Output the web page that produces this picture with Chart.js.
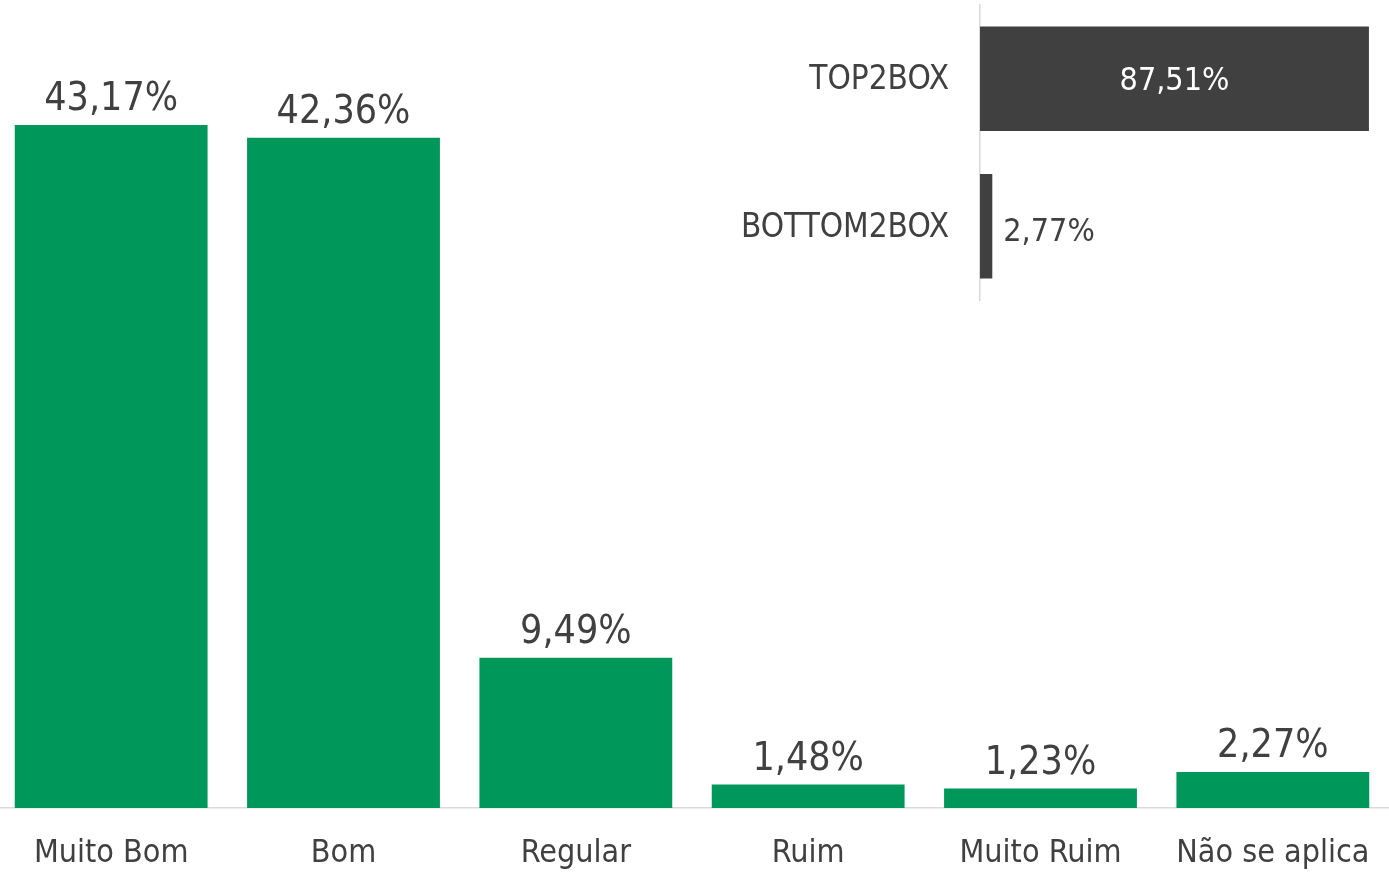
<!DOCTYPE html>
<html>
<head>
<meta charset="utf-8">
<script src="https://cdn.jsdelivr.net/npm/chart.js@4.4.1/dist/chart.umd.min.js"></script>
<style>
  html, body { margin: 0; padding: 0; background: #ffffff; overflow: hidden; }
  body { width: 1389px; height: 874px; position: relative; }
  #main { position: absolute; left: -5px; top: 0; width: 1394px; height: 874px; }
  #inset { position: absolute; left: 700px; top: 0; width: 689px; height: 310px; }
</style>
</head>
<body>
<canvas id="main" width="1394" height="874"></canvas>
<canvas id="inset" width="689" height="310"></canvas>
<script>
const categories = ['Muito Bom', 'Bom', 'Regular', 'Ruim', 'Muito Ruim', 'Não se aplica'];
const values = [43.17, 42.36, 9.49, 1.48, 1.23, 2.27];
const boxCategories = ['TOP2BOX', 'BOTTOM2BOX'];
const boxValues = [87.51, 2.77];

const FONT = '"DejaVu Sans Condensed", "DejaVu Sans", sans-serif';
const TEXT = '#404040';
const GREEN = '#00985A';
const DARK = '#404040';

function fmt(v) { return v.toFixed(2).replace('.', ',') + '%'; }

const topLabels = {
  id: 'topLabels',
  afterDatasetsDraw(chart) {
    const ctx = chart.ctx;
    const meta = chart.getDatasetMeta(0);
    ctx.save();
    ctx.font = '39px ' + FONT;
    ctx.fillStyle = TEXT;
    ctx.textAlign = 'center';
    ctx.textBaseline = 'alphabetic';
    meta.data.forEach((bar, i) => {
      ctx.fillText(fmt(chart.data.datasets[0].data[i]), bar.x, bar.y - 15);
    });
    ctx.restore();
  }
};

new Chart(document.getElementById('main'), {
  type: 'bar',
  data: {
    labels: categories,
    datasets: [{ data: values, backgroundColor: GREEN, borderWidth: 0,
                 categoryPercentage: 1, barPercentage: 0.83 }]
  },
  options: {
    responsive: false, animation: false, devicePixelRatio: 1,
    layout: { padding: { top: 17, bottom: 3, left: 0, right: 0 } },
    plugins: { legend: { display: false }, tooltip: { enabled: false } },
    scales: {
      x: {
        grid: { display: false },
        border: { display: true, color: '#d9d9d9', width: 1.5 },
        afterFit(scale) { scale.height = 63; scale.paddingLeft = 0; scale.paddingRight = 0; },
        ticks: { color: TEXT, font: { family: FONT, size: 32 }, padding: 18, maxRotation: 0, autoSkip: false }
      },
      y: { display: false, min: 0, max: 50 }
    }
  },
  plugins: [topLabels]
});

const insetLabels = {
  id: 'insetLabels',
  afterDatasetsDraw(chart) {
    const ctx = chart.ctx;
    const meta = chart.getDatasetMeta(0);
    ctx.save();
    ctx.font = '32px ' + FONT;
    ctx.textBaseline = 'middle';
    meta.data.forEach((bar, i) => {
      const txt = fmt(chart.data.datasets[0].data[i]);
      const w = ctx.measureText(txt).width;
      const barW = bar.x - bar.base;
      if (barW > w + 20) {
        ctx.fillStyle = '#ffffff';
        ctx.textAlign = 'center';
        ctx.fillText(txt, (bar.x + bar.base) / 2, bar.y + 3);
      } else {
        ctx.fillStyle = TEXT;
        ctx.textAlign = 'left';
        ctx.fillText(txt, bar.x + 11, bar.y + 6);
      }
    });
    ctx.restore();
  }
};

new Chart(document.getElementById('inset'), {
  type: 'bar',
  data: {
    labels: boxCategories,
    datasets: [{ data: boxValues, backgroundColor: DARK, borderWidth: 0,
                 categoryPercentage: 1, barPercentage: 0.71 }]
  },
  options: {
    indexAxis: 'y',
    responsive: false, animation: false, devicePixelRatio: 1,
    layout: { padding: { top: 5, bottom: 10, left: 0, right: 9 } },
    plugins: { legend: { display: false }, tooltip: { enabled: false } },
    scales: {
      x: { display: false, min: 0, max: 90 },
      y: {
        grid: { display: false },
        border: { display: true, color: '#d9d9d9', width: 1.5 },
        afterFit(scale) { scale.width = 280; scale.paddingTop = 0; scale.paddingBottom = 0; },
        ticks: { color: TEXT, font: { family: FONT, size: 33 }, padding: 23, labelOffset: 2 }
      }
    }
  },
  plugins: [insetLabels]
});
</script>
</body>
</html>
